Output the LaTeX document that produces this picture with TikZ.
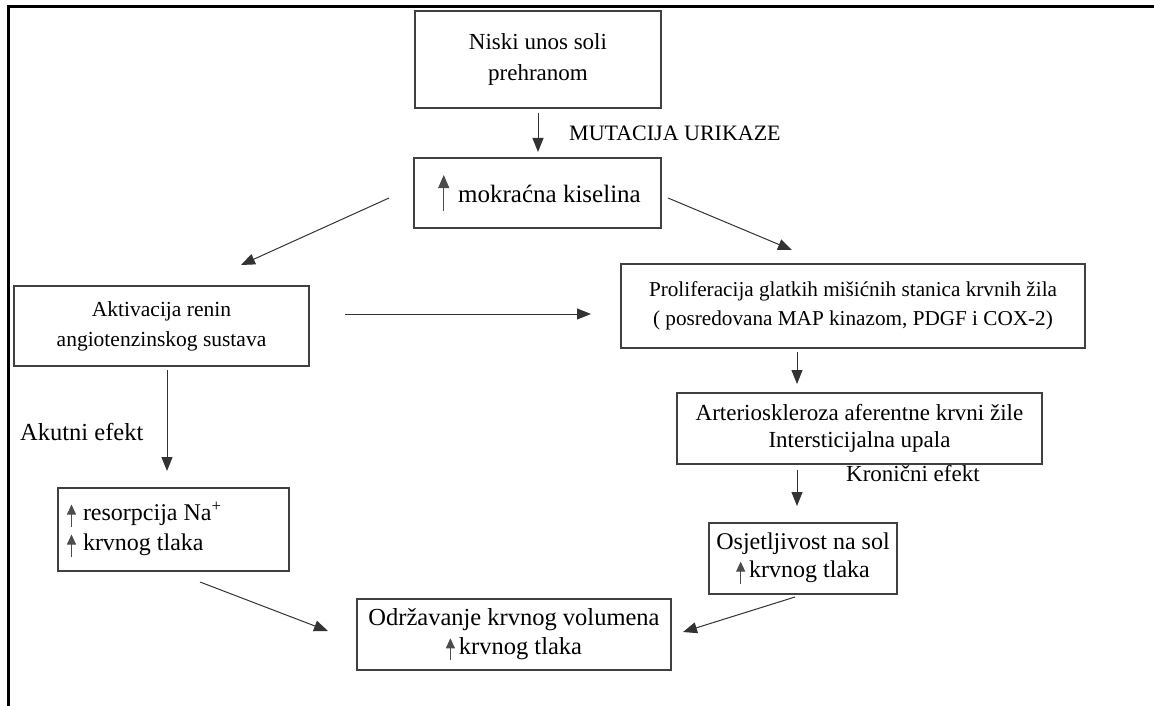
\documentclass[tikz,border=0pt]{standalone}
\usepackage{fontspec}
\setmainfont{Liberation Serif}
\usetikzlibrary{arrows.meta}
\newcommand\smallup{\tikz[baseline=0pt]\draw[line width=0.9pt,draw=black!70,-{Triangle[length=10pt,width=9pt]}](0,-6pt)--(0,16pt);}
\newcommand\bigup{\tikz[baseline=0pt]\draw[line width=0.9pt,draw=black!70,-{Triangle[length=13pt,width=11pt]}](0,-9pt)--(0,27pt);}
\newcommand\fs[2]{\fontsize{#1}{#2}\selectfont}
\begin{document}
\begin{tikzpicture}[x=1pt,y=-1pt,
  box/.style={draw=black!75,line width=1.1pt,align=center,inner sep=0pt},
  lbl/.style={inner sep=0pt},
  arr/.style={draw=black!80,line width=1pt,-{Triangle[length=14pt,width=11pt]}}]
\useasboundingbox (0,0) rectangle (1154,706);
\draw[line width=3pt] (8.5,706) -- (8.5,6.5) -- (1154,6.5);
\node[box,font=\fs{23}{31},minimum width=246pt,minimum height=97pt] (b1) at (538,59.5) {Niski unos soli\\prehranom};
\node[box,font=\fs{25}{29},minimum width=247pt,minimum height=70pt] (b2) at (537.5,193) {\hspace{4pt}\bigup\hspace{9pt}mokraćna kiselina};
\node[box,font=\fs{21.5}{30},minimum width=295pt,minimum height=80pt] (b3) at (161.5,326) {Aktivacija renin\\angiotenzinskog sustava};
\node[box,font=\fs{21.2}{29},minimum width=464pt,minimum height=84pt] (b4) at (853,306) {Proliferacija glatkih mišićnih stanica krvnih žila\\( posredovana MAP kinazom, PDGF i COX-2)};
\node[box,font=\fs{23}{27.5},minimum width=365pt,minimum height=71pt] (b5) at (859.5,428.5) {Arterioskleroza aferentne krvni žile\\Intersticijalna upala};
\node[box,font=\fs{24}{28},minimum width=188pt,minimum height=71pt] (b6) at (803,558.5) {Osjetljivost na sol\\\smallup\,krvnog tlaka};
\node[box,font=\fs{24.5}{29},minimum width=314pt,minimum height=71pt] (b7) at (514,634.5) {Održavanje krvnog volumena\\\smallup\,krvnog tlaka};
\node[box,font=\fs{24}{30},align=flush left,text width=219pt,inner xsep=6pt,minimum height=83pt] (b8) at (173.5,529.5) {\hspace{3pt}\smallup\hspace{7pt}resorpcija Na\textsuperscript{+}\\\hspace{3pt}\smallup\hspace{7pt}krvnog tlaka};
\node[lbl,font=\fs{22}{26},anchor=west] (mut) at (569,133) {MUTACIJA URIKAZE};
\node[lbl,font=\fs{24.5}{28},anchor=west] (akut) at (20,432) {Akutni efekt};
\node[lbl,font=\fs{23}{27},anchor=west] (kron) at (846,474) {Kronični efekt};
\coordinate (p1s) at (538,113); \coordinate (p1e) at (538,152);
\coordinate (p2s) at (389,198); \coordinate (p2e) at (241,265);
\coordinate (p3s) at (668,198); \coordinate (p3e) at (792,250);
\coordinate (p4s) at (345,314); \coordinate (p4e) at (591,314);
\coordinate (p5s) at (167,370); \coordinate (p5e) at (167,471);
\coordinate (p6s) at (797,352); \coordinate (p6e) at (797,384);
\coordinate (p7s) at (797,470); \coordinate (p7e) at (797,506);
\coordinate (p8s) at (200,582); \coordinate (p8e) at (328,631);
\coordinate (p9s) at (795,597); \coordinate (p9e) at (683,632);
\draw[arr] (p1s) -- (p1e);
\draw[arr] (p2s) -- (p2e);
\draw[arr] (p3s) -- (p3e);
\draw[arr] (p4s) -- (p4e);
\draw[arr] (p5s) -- (p5e);
\draw[arr] (p6s) -- (p6e);
\draw[arr] (p7s) -- (p7e);
\draw[arr] (p8s) -- (p8e);
\draw[arr] (p9s) -- (p9e);
\end{tikzpicture}
\end{document}
